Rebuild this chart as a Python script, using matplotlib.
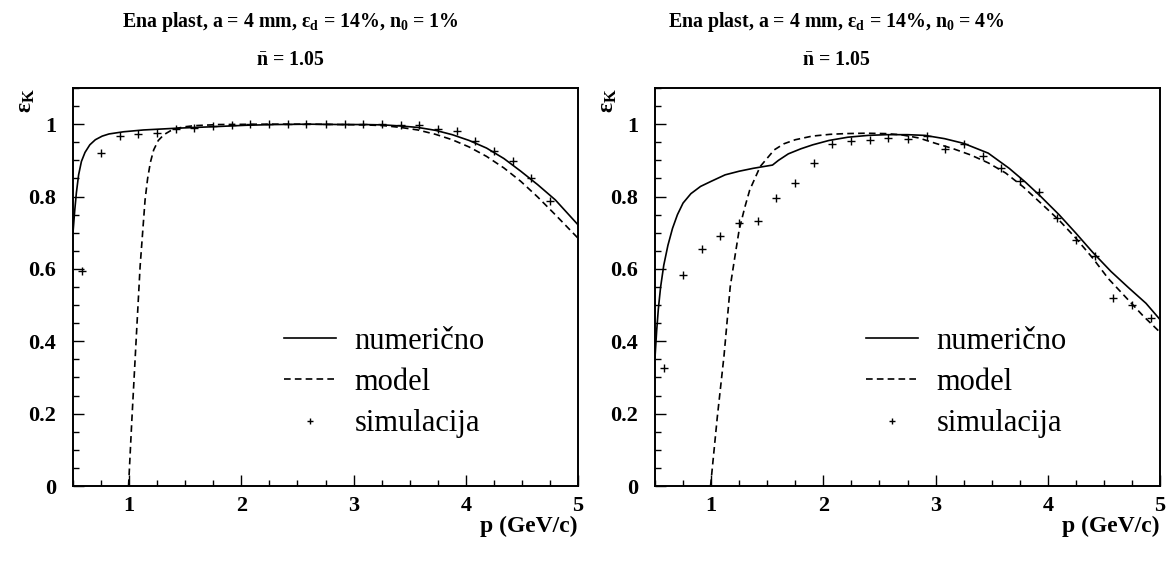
"""Kaon efficiency vs momentum, two plastic configurations."""

import matplotlib
matplotlib.use("Agg")
import matplotlib.pyplot as plt
from matplotlib.ticker import MultipleLocator, FuncFormatter

plt.rcParams["font.family"] = ["Liberation Serif", "DejaVu Serif"]
plt.rcParams["mathtext.fontset"] = "custom"
plt.rcParams["mathtext.rm"] = "Liberation Serif"
plt.rcParams["mathtext.it"] = "Liberation Serif:italic"
plt.rcParams["mathtext.bf"] = "Liberation Serif:bold"

# left panel, n0 = 1%
p_num_1 = [0.5, 0.515, 0.53, 0.55, 0.575, 0.607, 0.65, 0.699, 0.76, 0.821, 0.95,
           1.127, 1.433, 1.75, 2.04, 2.3, 2.6, 2.9, 3.1, 3.268, 3.42, 3.573, 3.73,
           3.879, 4.03, 4.185, 4.34, 4.49, 4.64, 4.797, 5.0]
eff_num_1 = [0.70, 0.76, 0.81, 0.86, 0.897, 0.922, 0.943, 0.957, 0.967, 0.973, 0.979,
             0.984, 0.989, 0.993, 0.997, 0.999, 1.0, 0.999, 0.999, 0.998, 0.995, 0.991, 0.983,
             0.971, 0.955, 0.934, 0.905, 0.870, 0.833, 0.791, 0.722]
p_mod_1 = [0.995, 1.024, 1.062, 1.098, 1.142, 1.165, 1.19, 1.219, 1.26, 1.31, 1.37,
           1.433, 1.5, 1.586, 1.8, 2.2, 2.6, 2.9, 3.1, 3.268, 3.42, 3.573, 3.73, 3.879,
           4.03, 4.185, 4.34, 4.49, 4.64, 4.797, 5.0]
eff_mod_1 = [0.0, 0.18, 0.40, 0.607, 0.79, 0.85, 0.895, 0.929, 0.955, 0.971, 0.982,
             0.989, 0.993, 0.996, 0.999, 1.0, 1.0, 0.999, 0.998, 0.996, 0.991, 0.984, 0.972,
             0.957, 0.937, 0.911, 0.879, 0.842, 0.799, 0.75, 0.685]
p_sim_1 = [0.58, 0.75, 0.92, 1.08, 1.25, 1.42, 1.58, 1.75, 1.92, 2.08, 2.25, 2.42, 2.58,
           2.75, 2.92, 3.08, 3.25, 3.42, 3.58, 3.75, 3.92, 4.08, 4.25, 4.42, 4.58, 4.75]
eff_sim_1 = [0.595, 0.920, 0.968, 0.972, 0.977, 0.986, 0.989, 0.994, 0.998, 1.0, 1.0,
             1.0, 1.0, 1.0, 1.0, 1.0, 1.0, 0.999, 0.997, 0.988, 0.980, 0.953, 0.927,
             0.898, 0.851, 0.789]

# right panel, n0 = 4%
p_num_2 = [0.5, 0.515, 0.53, 0.55, 0.578, 0.615, 0.656, 0.70, 0.75, 0.82, 0.906, 1.0,
           1.125, 1.25, 1.375, 1.47, 1.547, 1.6, 1.688, 1.8, 1.906, 2.05, 2.219, 2.4,
           2.563, 2.75, 2.906, 3.08, 3.25, 3.469, 3.656, 3.8, 3.938, 4.1, 4.25, 4.4,
           4.563, 4.72, 4.875, 5.0]
eff_num_2 = [0.355, 0.43, 0.49, 0.55, 0.61, 0.665, 0.712, 0.75, 0.782, 0.808, 0.828,
             0.842, 0.86, 0.87, 0.878, 0.883, 0.887, 0.90, 0.918, 0.932, 0.943, 0.955,
             0.964, 0.969, 0.971, 0.971, 0.969, 0.96, 0.947, 0.92, 0.878, 0.84, 0.80,
             0.75, 0.699, 0.646, 0.593, 0.548, 0.505, 0.46]
p_mod_2 = [0.995, 1.055, 1.115, 1.17, 1.21, 1.25, 1.3, 1.344, 1.4375, 1.5625, 1.65,
           1.75, 1.9, 2.0625, 2.2, 2.375, 2.55, 2.6875, 2.85, 3.0, 3.15, 3.3125, 3.47,
           3.625, 3.78, 3.9375, 4.1, 4.25, 4.4, 4.54, 4.7, 4.85, 5.0]
eff_mod_2 = [0.0, 0.19, 0.36, 0.55, 0.63, 0.708, 0.77, 0.818, 0.883, 0.929, 0.946,
             0.957, 0.967, 0.972, 0.974, 0.975, 0.974, 0.971, 0.962, 0.947, 0.933, 0.915,
             0.893, 0.865, 0.827, 0.782, 0.735, 0.685, 0.63, 0.573, 0.52, 0.47, 0.425]
p_sim_2 = [0.58, 0.75, 0.92, 1.08, 1.25, 1.42, 1.58, 1.75, 1.92, 2.08, 2.25, 2.42, 2.58,
           2.75, 2.92, 3.08, 3.25, 3.42, 3.58, 3.75, 3.92, 4.08, 4.25, 4.42, 4.58, 4.75,
           4.92]
eff_sim_2 = [0.327, 0.582, 0.655, 0.692, 0.726, 0.732, 0.795, 0.837, 0.892, 0.945,
             0.954, 0.956, 0.963, 0.959, 0.966, 0.932, 0.945, 0.912, 0.878, 0.844, 0.812,
             0.740, 0.680, 0.637, 0.519, 0.500, 0.465]

titles = [r"Ena plast, a = 4 mm, ε$_{\mathbf{d}}$ = 14%, n$_{\mathbf{0}}$ = 1%",
          r"Ena plast, a = 4 mm, ε$_{\mathbf{d}}$ = 14%, n$_{\mathbf{0}}$ = 4%"]
subtitle = r"$\bar{\mathbf{n}}$ = 1.05"
labels = ["numerično", "model", "simulacija"]

panels = [
    (p_num_1, eff_num_1, p_mod_1, eff_mod_1, p_sim_1, eff_sim_1),
    (p_num_2, eff_num_2, p_mod_2, eff_mod_2, p_sim_2, eff_sim_2),
]

fig = plt.figure(figsize=(11.73, 5.61), dpi=100)
W, H = 1173.0, 561.0
lefts = [73, 655]
title_cx = [290, 836]
ax_w, ax_top, ax_bot = 505, 88, 486

for i, (pn, en, pm, em, ps, es) in enumerate(panels):
    ax = fig.add_axes([lefts[i] / W, 1 - ax_bot / H, ax_w / W, (ax_bot - ax_top) / H])
    ax.plot(pn, en, color="black", lw=1.2, label=labels[0])
    ax.plot(pm, em, color="black", lw=1.2, dashes=(4, 2.5), label=labels[1])
    ax.plot(ps, es, ls="none", marker="+", ms=6, mew=1.0, color="black",
            label=labels[2])

    ax.set_xlim(0.5, 5)
    ax.set_ylim(0, 1.1)
    ax.xaxis.set_major_locator(MultipleLocator(1))
    ax.xaxis.set_minor_locator(MultipleLocator(0.25))
    ax.yaxis.set_major_locator(MultipleLocator(0.2))
    ax.yaxis.set_minor_locator(MultipleLocator(0.05))
    ax.yaxis.set_major_formatter(FuncFormatter(lambda v, _: f"{v:g}"))
    ax.tick_params(which="both", direction="in", top=False, right=False, width=1.0)
    ax.tick_params(which="major", length=8)
    ax.tick_params(which="minor", length=4)
    ax.tick_params(axis="y", pad=12)
    ax.tick_params(axis="x", pad=7)
    for lab in ax.get_xticklabels() + ax.get_yticklabels():
        lab.set_fontsize(16)
        lab.set_fontweight("bold")
    for sp in ax.spines.values():
        sp.set_linewidth(1.4)

    ax.set_xlabel("p (GeV/c)", fontsize=17, fontweight="bold", ha="right")
    ax.xaxis.set_label_coords(1.0, -0.075)
    ax.set_ylabel(r"ε$_{\mathbf{K}}$", fontsize=17, fontweight="bold", ha="right")
    ax.yaxis.set_label_coords(-0.072, 1.0)

    ax.legend(loc="upper left", bbox_to_anchor=(0.418, 0.40), frameon=False,
              fontsize=22, handlelength=1.7, handletextpad=0.6, labelspacing=0.4,
              borderpad=0, borderaxespad=0, markerscale=0.75)

    cx = title_cx[i] / W
    fig.text(cx, 1 - 22 / H, titles[i], ha="center", va="center", fontsize=14.3,
             fontweight="bold")
    fig.text(cx, 1 - 60 / H, subtitle, ha="center", va="center", fontsize=14.3,
             fontweight="bold")

fig.savefig("out.png", dpi=100)
